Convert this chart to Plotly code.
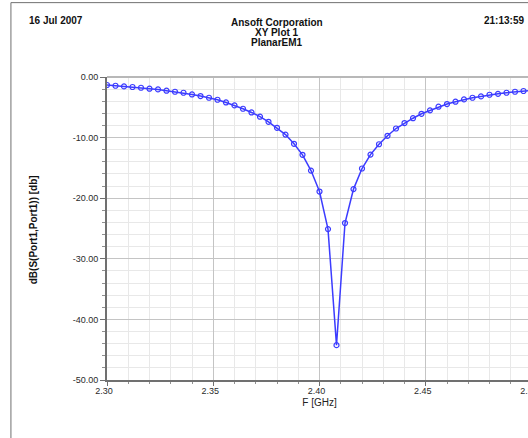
import plotly.graph_objects as go

# ---- data ----
freq_ghz = [round(2.300 + 0.004 * i, 3) for i in range(51)]
s11_db = [
    -1.32, -1.44, -1.55, -1.65, -1.77, -1.93, -2.05, -2.26, -2.43, -2.60,
    -2.88, -3.14, -3.42, -3.75, -4.20, -4.69,
    -5.24, -5.85, -6.55, -7.39, -8.38, -9.50,
    -11.02, -12.84, -15.44, -18.90, -25.10,
    -44.25,
    -24.10, -18.50, -15.10, -12.80, -11.10, -9.70, -8.50, -7.60, -6.80, -6.07,
    -5.50, -4.90, -4.46, -4.08, -3.70, -3.42, -3.20, -2.93, -2.78, -2.60,
    -2.43, -2.31, -2.20,
]
x_ticks = [2.30, 2.35, 2.40, 2.45, 2.50]
x_tick_labels = ["2.30", "2.35", "2.40", "2.45", "2.50"]
y_ticks = [0, -10, -20, -30, -40, -50]
y_tick_labels = ["0.00", "-10.00", "-20.00", "-30.00", "-40.00", "-50.00"]

# ---- layout geometry (page pixels; body margin removed below) ----
W, H = 540, 438
L, R, T, B = 106.7, 7.7, 77.3, 58


def xp(px):
    return (px - L) / (W - L - R)


def yp(py):
    return 1 - (py - T) / (H - T - B)


blue = "rgb(60,60,255)"
fig = go.Figure()
fig.add_trace(go.Scatter(
    x=freq_ghz, y=s11_db, mode="lines+markers",
    line=dict(color=blue, width=1.5),
    marker=dict(symbol="circle-open", size=5, color=blue, line=dict(width=1.2, color=blue)),
    showlegend=False,
))

ff = "Liberation Sans, Arial, sans-serif"
axis_font = dict(family=ff, size=9, color="#2a2a2a")
fig.update_xaxes(
    range=[2.30, 2.50], tickvals=x_ticks, ticktext=x_tick_labels, tickfont=axis_font,
    showgrid=True, gridcolor="#c4c4c4", gridwidth=1,
    showline=True, linecolor="#707070", linewidth=2,
    ticks="outside", ticklen=4, tickcolor="#707070", ticklabelshift=-3,
    ticklabelstandoff=-3,
    minor=dict(dtick=0.01, showgrid=True, gridcolor="#e8e8e8", gridwidth=1,
               ticks="outside", ticklen=2, tickcolor="#909090"),
    zeroline=False,
    title=dict(text="F [GHz]", font=dict(family=ff, size=10, color="#222222"), standoff=4),
)
fig.update_yaxes(
    range=[-50, 0], tickvals=y_ticks, ticktext=y_tick_labels, tickfont=axis_font,
    showgrid=True, gridcolor="#c4c4c4", gridwidth=1,
    showline=True, linecolor="#707070", linewidth=2,
    ticks="outside", ticklen=5, tickcolor="#707070",
    minor=dict(dtick=2, showgrid=True, gridcolor="#e8e8e8", gridwidth=1,
               ticks="outside", ticklen=3, tickcolor="#909090"),
    zeroline=False,
)

bold = dict(family=ff, size=10, color="#111111")
ann = [
    dict(text="<b>16 Jul 2007</b>", x=xp(27), y=yp(21), xanchor="left", yanchor="middle"),
    dict(text="<b>Ansoft Corporation</b>", x=xp(277), y=yp(23), xanchor="center", yanchor="middle"),
    dict(text="<b>XY Plot 1</b>", x=xp(277), y=yp(33), xanchor="center", yanchor="middle"),
    dict(text="<b>PlanarEM1</b>", x=xp(277), y=yp(43), xanchor="center", yanchor="middle"),
    dict(text="<b>21:13:59</b>", x=xp(482), y=yp(21), xanchor="left", yanchor="middle"),
    dict(text="<b>dB(S(Port1,Port1)) [db]</b>", x=xp(33), y=yp(230), xanchor="center",
         yanchor="middle", textangle=-90),
]
for a in ann:
    a.update(xref="paper", yref="paper", showarrow=False, font=bold)

shapes = [
    # outer frame (left and top edges visible)
    dict(type="line", xref="paper", yref="paper", x0=xp(10.5), x1=xp(10.5), y0=yp(3), y1=yp(440),
         line=dict(color="#707070", width=1)),
    dict(type="line", xref="paper", yref="paper", x0=xp(10.5), x1=xp(W), y0=yp(3), y1=yp(3),
         line=dict(color="#707070", width=1)),
    # top edge of plot area
    dict(type="line", xref="paper", yref="paper", x0=0, x1=1, y0=1, y1=1,
         line=dict(color="#b8b8b8", width=2)),
]

fig.update_layout(
    width=W, height=H, margin=dict(l=L, r=R, t=T, b=B, autoexpand=False),
    paper_bgcolor="white", plot_bgcolor="white",
    annotations=ann, shapes=shapes,
)

fig.write_html(
    "out.html",
    config={"displayModeBar": False},
    post_script="document.body.style.margin='0';document.body.style.overflow='hidden';",
)
